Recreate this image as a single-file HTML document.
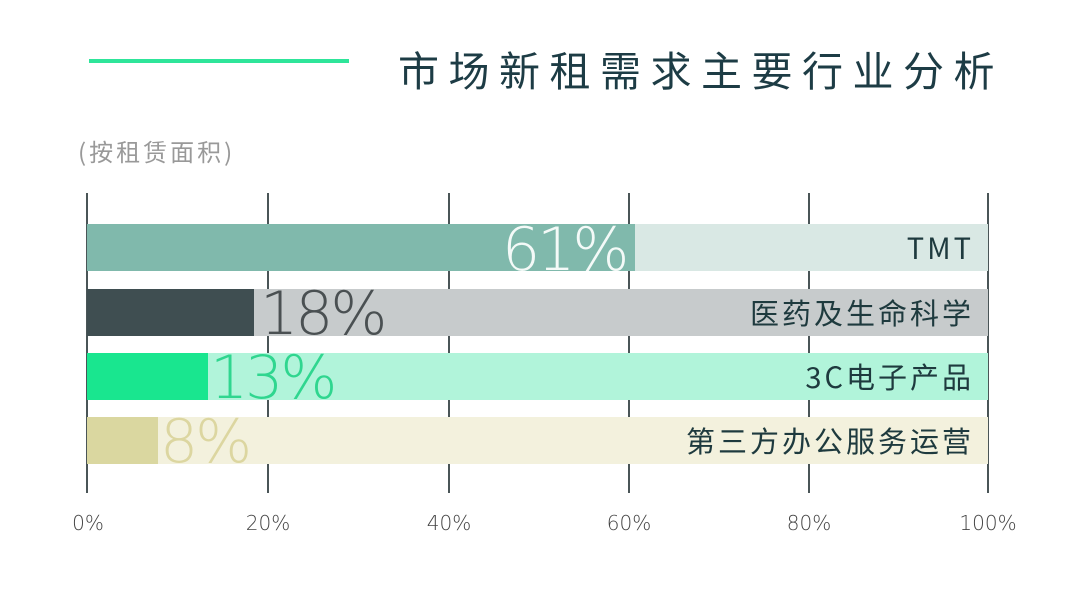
<!DOCTYPE html>
<html><head><meta charset="utf-8"><style>
body{margin:0;width:1080px;height:595px;background:#fff;position:relative;overflow:hidden;font-family:"Liberation Sans","Noto Sans CJK SC",sans-serif}
.a{position:absolute}
.grid{position:absolute;top:193px;height:300px;width:1.5px;background:#4a5557}
.bar{position:absolute;left:87px;width:901px;height:47px}
.fill{position:absolute;left:0;top:0;height:47px}
.lab{position:absolute;right:14px;top:0;line-height:47px;font-size:29px;color:#1e3a3e;letter-spacing:3px;font-family:"Noto Sans CJK SC",sans-serif}
.pct{position:absolute;font-family:"DejaVu Sans",sans-serif;font-weight:200;font-size:60px;line-height:60px;letter-spacing:-3px}
.tick{position:absolute;top:511px;font-size:20px;color:#444;font-family:"DejaVu Sans",sans-serif;font-weight:200;transform:translateX(-50%)}
</style></head><body>
<div class="a" style="left:89px;top:59px;width:260px;height:4px;background:#2ee59a"></div>
<div class="a" style="left:398px;top:38px;font-size:41px;line-height:60px;letter-spacing:9.5px;color:#1d3c45;font-family:'Noto Sans CJK SC',sans-serif">市场新租需求主要行业分析</div>
<div class="a" style="left:78px;top:134px;font-size:24px;line-height:34px;letter-spacing:3px;color:#999;font-family:'Noto Sans CJK SC',sans-serif">(按租赁面积)</div>

<div class="grid" style="left:86px"></div>
<div class="grid" style="left:267px"></div>
<div class="grid" style="left:448px"></div>
<div class="grid" style="left:628px"></div>
<div class="grid" style="left:808px"></div>
<div class="grid" style="left:987px"></div>

<div class="bar" style="top:224px;background:#d9e8e4"><div class="fill" style="width:548px;background:#80b9ac"></div><div class="lab">TMT</div></div>
<div class="bar" style="top:289px;background:#c7cbcc"><div class="fill" style="width:167px;background:#3f4e51"></div><div class="lab">医药及生命科学</div></div>
<div class="bar" style="top:353px;background:#b1f4da"><div class="fill" style="width:121px;background:#19e68f"></div><div class="lab">3C电子产品</div></div>
<div class="bar" style="top:417px;background:#f3f1dd"><div class="fill" style="width:71px;background:#dad7a0"></div><div class="lab">第三方办公服务运营</div></div>

<div class="pct" style="left:502px;top:220px;color:#f4faf8">61%</div>
<div class="pct" style="left:260px;top:284px;color:#4a5052">18%</div>
<div class="pct" style="left:210px;top:348px;color:#2fd68f">13%</div>
<div class="pct" style="left:160px;top:412px;color:#dcd6a0">8%</div>

<div class="tick" style="left:88px">0%</div>
<div class="tick" style="left:268px">20%</div>
<div class="tick" style="left:449px">40%</div>
<div class="tick" style="left:629px">60%</div>
<div class="tick" style="left:809px">80%</div>
<div class="tick" style="left:988px">100%</div>
</body></html>
